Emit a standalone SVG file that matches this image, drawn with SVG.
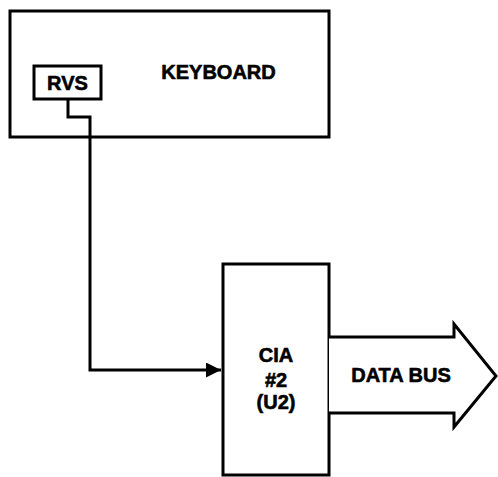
<svg xmlns="http://www.w3.org/2000/svg" width="498" height="477" viewBox="0 0 498 477">
<defs>
<style>
.box{fill:#fff;stroke:#000;stroke-width:3}
.wire{fill:none;stroke:#000;stroke-width:3}
.lbl{font-family:"Liberation Sans",Arial,sans-serif;font-weight:bold;font-size:20px;fill:#000;stroke:#000;stroke-width:0.6;text-anchor:middle}
</style>
<marker id="ah" viewBox="0 0 10 10" refX="10" refY="5" markerWidth="5" markerHeight="5" markerUnits="strokeWidth" orient="auto">
<path d="M0,0 L10,5 L0,10 Z" fill="#000"/>
</marker>
</defs>
<g id="keyboard">
<rect class="box" x="10" y="11" width="319" height="126"/>
<text class="lbl" x="218.5" y="79">KEYBOARD</text>
</g>
<g id="rvs">
<rect class="box" x="34" y="66" width="67" height="33"/>
<text class="lbl" x="67.5" y="90">RVS</text>
</g>
<g id="cia">
<rect class="box" x="223" y="264" width="106" height="211"/>
<text class="lbl" x="276" y="362">CIA</text>
<text class="lbl" x="276" y="387">#2</text>
<text class="lbl" x="276" y="409">(U2)</text>
</g>
<g id="databus">
<path class="box" d="M329,337 L454,337 L454,324 L496,376 L454,427 L454,413 L329,413"/>
<text class="lbl" x="401" y="382">DATA BUS</text>
</g>
<g id="connectors">
<path class="wire" d="M68,99 L68,117 L90,117 L90,370 L221,370" marker-end="url(#ah)"/>
</g>
</svg>
